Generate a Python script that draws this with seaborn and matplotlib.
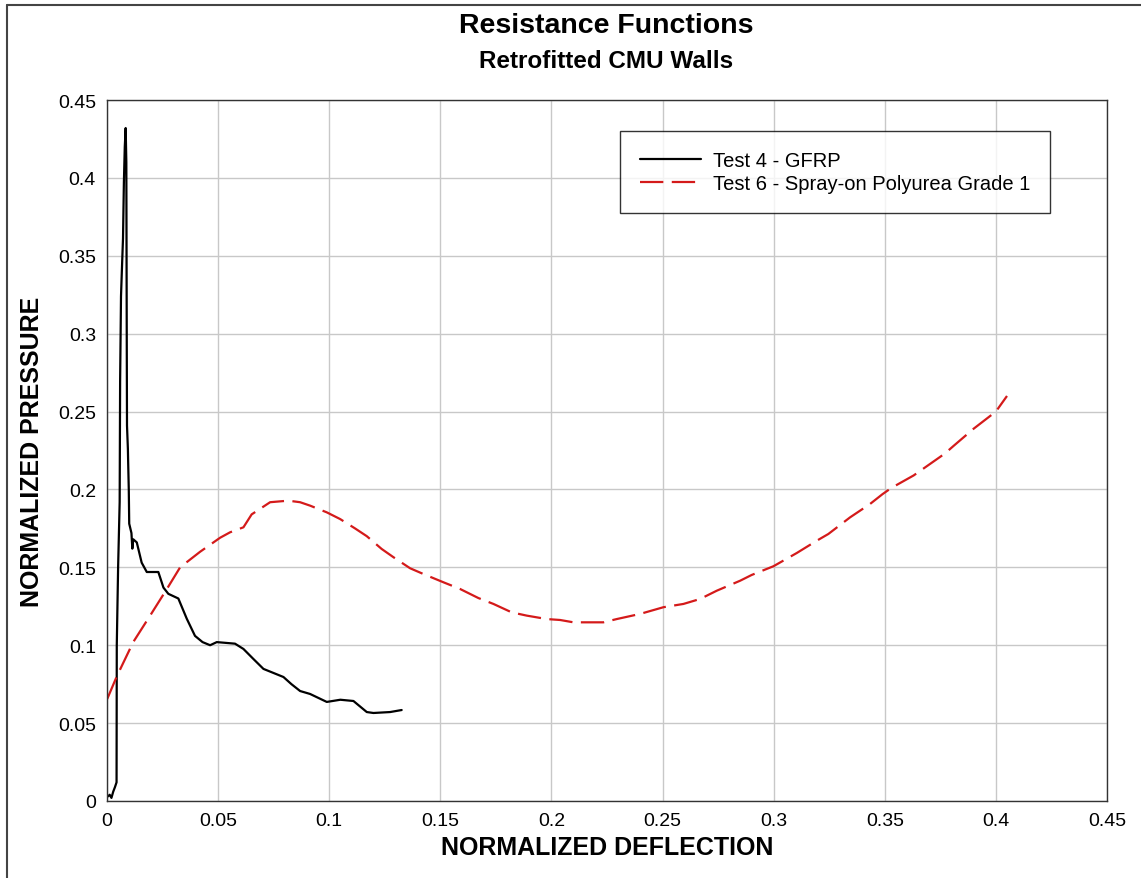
import numpy as np
import pandas as pd
import matplotlib
matplotlib.use("Agg")
import matplotlib.pyplot as plt
import seaborn as sns
from matplotlib.lines import Line2D

# Test 4 - GFRP (black, solid)
gfrp_x = [0.0005, 0.0012, 0.0020, 0.0028, 0.0036, 0.0043, 0.0044, 0.0050, 0.0057,
          0.0059, 0.0063, 0.0068, 0.0072, 0.0076, 0.0080, 0.0084, 0.0087, 0.0089,
          0.0090, 0.0094, 0.0095, 0.0098, 0.0100, 0.0110, 0.0114, 0.0118, 0.0134,
          0.0156, 0.0179, 0.0231, 0.0254, 0.0276, 0.0321, 0.0359, 0.0396, 0.0430,
          0.0464, 0.0494, 0.0576, 0.0614, 0.0660, 0.0704, 0.0749, 0.0794, 0.0830,
          0.0869, 0.0914, 0.0989, 0.1050, 0.1109, 0.1169, 0.1199, 0.1274, 0.1326]
gfrp_y = [0.003, 0.004, 0.002, 0.006, 0.009, 0.012, 0.100, 0.150, 0.192,
          0.269, 0.324, 0.345, 0.361, 0.397, 0.420, 0.432, 0.410, 0.290,
          0.241, 0.226, 0.219, 0.200, 0.178, 0.172, 0.162, 0.168, 0.166,
          0.153, 0.147, 0.147, 0.137, 0.133, 0.130, 0.117, 0.106, 0.102,
          0.100, 0.102, 0.101, 0.0976, 0.091, 0.0848, 0.0822, 0.0796, 0.075,
          0.0706, 0.0687, 0.0636, 0.065, 0.0642, 0.0571, 0.0565, 0.0571, 0.0584]

# Test 6 - Spray-on Polyurea Grade 1 (red, dashed)
poly_x = [0.0001, 0.0044, 0.0118, 0.0194, 0.0269, 0.0329, 0.0419, 0.0509, 0.0554,
          0.0614, 0.0651, 0.0734, 0.0816, 0.0869, 0.0914, 0.0989, 0.1049, 0.1116,
          0.1169, 0.1236, 0.1289, 0.1364, 0.1424, 0.1514, 0.1589, 0.1671, 0.1739,
          0.1821, 0.1889, 0.1979, 0.2039, 0.2099, 0.2234, 0.2294, 0.2399, 0.2504,
          0.2594, 0.2669, 0.2744, 0.2849, 0.2901, 0.2999, 0.3051, 0.3104, 0.3194,
          0.3246, 0.3344, 0.3434, 0.3490, 0.3530, 0.3630, 0.3670, 0.3770, 0.3810,
          0.3900, 0.4000, 0.4050]
poly_y = [0.0655, 0.080, 0.102, 0.119, 0.136, 0.150, 0.160, 0.169, 0.1725,
          0.1757, 0.184, 0.1918, 0.1928, 0.1918, 0.1896, 0.1853, 0.181, 0.175,
          0.170, 0.1618, 0.1565, 0.1494, 0.1457, 0.1404, 0.1361, 0.1303, 0.1265,
          0.1211, 0.1190, 0.1168, 0.1162, 0.1147, 0.1147, 0.1168, 0.1201, 0.1244,
          0.1265, 0.1297, 0.1350, 0.1414, 0.1451, 0.1507, 0.1549, 0.1592, 0.1671,
          0.1714, 0.1821, 0.1907, 0.197, 0.201, 0.209, 0.213, 0.223, 0.228,
          0.239, 0.250, 0.260]

tick_labels = ["0", "0.05", "0.1", "0.15", "0.2", "0.25", "0.3", "0.35", "0.4", "0.45"]

gfrp = pd.DataFrame({"x": gfrp_x, "y": gfrp_y})
poly = pd.DataFrame({"x": poly_x, "y": poly_y})

sns.set_style("whitegrid")
plt.rcParams["font.family"] = ["Liberation Sans", "DejaVu Sans"]
plt.rcParams["text.color"] = "black"
plt.rcParams["axes.labelcolor"] = "black"

fig = plt.figure(figsize=(11.41, 8.79), dpi=100)
ax = fig.add_axes([107 / 1141, 1 - 802 / 879, 1000 / 1141, 701 / 879])

sns.lineplot(data=gfrp, x="x", y="y", ax=ax, sort=False, estimator=None,
             color="black", lw=1.6, label="Test 4 - GFRP")
sns.lineplot(data=poly, x="x", y="y", ax=ax, sort=False, estimator=None,
             color="#d41a1a", lw=1.6, dashes=False,
             label="Test 6 - Spray-on Polyurea Grade 1")
ax.lines[1].set_dashes((10.5, 3.8))

ax.set_xlim(0, 0.45)
ax.set_ylim(0, 0.45)
ticks = np.arange(0, 0.451, 0.05)
ax.set_xticks(ticks)
ax.set_yticks(ticks)
ax.set_xticklabels(tick_labels)
ax.set_yticklabels(tick_labels)
ax.tick_params(length=0, labelsize=14, pad=8, colors="black")
ax.grid(True, color="#c8c8c8", lw=1)
for s in ax.spines.values():
    s.set_color("#333333")
    s.set_linewidth(1)

ax.set_xlabel("NORMALIZED DEFLECTION", fontsize=18, fontweight="bold", labelpad=4)
ax.set_ylabel("NORMALIZED PRESSURE", fontsize=18, fontweight="bold", labelpad=10)

fig.text(606 / 1141, 1 - 26 / 879, "Resistance Functions", ha="center", va="center",
         fontsize=20.5, fontweight="bold")
fig.text(606 / 1141, 1 - 61 / 879, "Retrofitted CMU Walls", ha="center", va="center",
         fontsize=17.5, fontweight="bold")

leg = ax.legend(loc="upper left", bbox_to_anchor=(513 / 1000, 1 - 31 / 701),
                borderaxespad=0, fontsize=14.5, frameon=True, fancybox=False,
                handlelength=3.0, borderpad=1.0, labelspacing=0.2, handletextpad=0.6)
leg.get_frame().set_edgecolor("black")
leg.get_frame().set_linewidth(1)

# outer frame of the figure (left and top edges visible)
fig.add_artist(Line2D([7 / 1141, 7 / 1141], [0, 1 - 6 / 879], color="#444444", lw=1.5,
                      transform=fig.transFigure))
fig.add_artist(Line2D([7 / 1141, 1], [1 - 6 / 879, 1 - 6 / 879], color="#444444", lw=1.5,
                      transform=fig.transFigure))

fig.savefig("out.png", dpi=100, facecolor="white")
